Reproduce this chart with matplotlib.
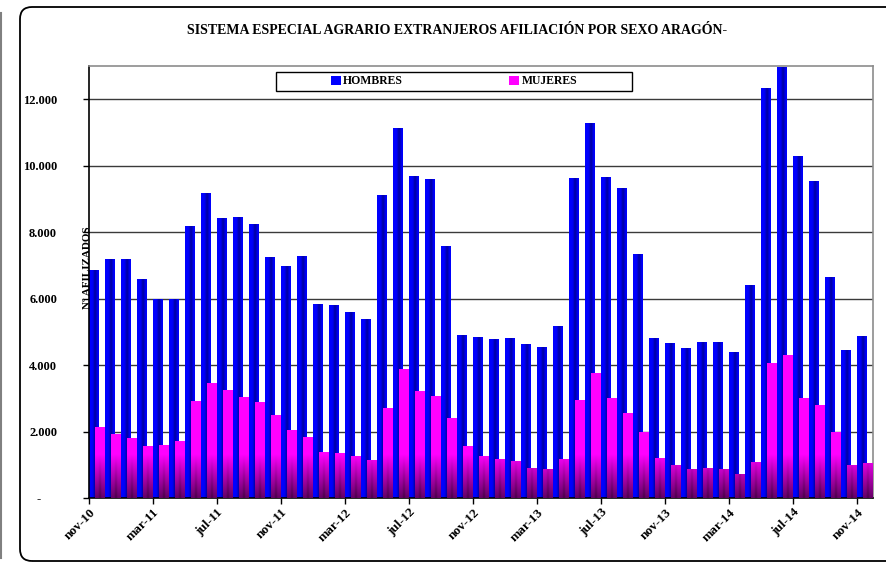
import numpy as np
import matplotlib.pyplot as plt
from matplotlib.patches import FancyBboxPatch, Rectangle
from matplotlib.lines import Line2D
from matplotlib.ticker import FixedLocator, FuncFormatter

# Monthly data nov-10 .. nov-14
months = ["nov-10", "dic-10", "ene-11", "feb-11", "mar-11", "abr-11", "may-11", "jun-11",
          "jul-11", "ago-11", "sep-11", "oct-11", "nov-11", "dic-11", "ene-12", "feb-12",
          "mar-12", "abr-12", "may-12", "jun-12", "jul-12", "ago-12", "sep-12", "oct-12",
          "nov-12", "dic-12", "ene-13", "feb-13", "mar-13", "abr-13", "may-13", "jun-13",
          "jul-13", "ago-13", "sep-13", "oct-13", "nov-13", "dic-13", "ene-14", "feb-14",
          "mar-14", "abr-14", "may-14", "jun-14", "jul-14", "ago-14", "sep-14", "oct-14",
          "nov-14"]

hombres = [6850, 7200, 7200, 6600, 5985, 5980, 8180, 9170, 8420, 8470, 8240, 7250,
           6970, 7280, 5840, 5800, 5606, 5385, 9130, 11120, 9700, 9600, 7580, 4915,
           4855, 4785, 4825, 4645, 4535, 5185, 9640, 11280, 9660, 9330, 7340, 4815,
           4675, 4515, 4705, 4705, 4395, 6416, 12350, 12960, 10290, 9530, 6650, 4455,
           4885]

mujeres = [2140, 1940, 1820, 1572, 1582, 1722, 2913, 3474, 3253, 3053, 2883, 2503,
           2032, 1822, 1381, 1341, 1261, 1141, 2723, 3884, 3213, 3063, 2402, 1562,
           1251, 1181, 1101, 901, 861, 1181, 2963, 3774, 3023, 2543, 1982, 1191,
           981, 881, 891, 871, 731, 1091, 4054, 4294, 3023, 2793, 1982, 991,
           1061]

series_names = ["HOMBRES", "MUJERES"]
yticks = [0, 2000, 4000, 6000, 8000, 10000, 12000]

plt.rcParams['font.family'] = ['Liberation Serif', 'DejaVu Serif']

W, H = 886, 565
fig = plt.figure(figsize=(W / 100, H / 100), dpi=100)
ax = fig.add_axes([89 / W, 1 - 498 / H, (873 - 89) / W, (498 - 66) / H])

x = np.arange(len(months))
bw = 0.625
off = 0.1875

# Bars
bh = ax.bar(x - off, hombres, width=bw, color='#0000FF', linewidth=0, zorder=2,
            label=series_names[0])
bm = ax.bar(x + off, mujeres, width=bw, color='#FF00FF', linewidth=0, zorder=3,
            label=series_names[1])

# Shading of the bars (gradient fill clipped to each bar)
nx, ny = 40, 60
gx = np.linspace(0, 1, nx)
gy = np.linspace(0, 1, ny)

# blue: darker band to the right of centre
band = 1 - 0.35 * np.exp(-((gx - 0.62) / 0.18) ** 2)
blue_img = np.zeros((1, nx, 4))
blue_img[0, :, 2] = band
blue_img[0, :, 3] = 1
for r in bh:
    im = ax.imshow(blue_img, extent=[r.get_x(), r.get_x() + r.get_width(), 0, r.get_height()],
                   origin='lower', aspect='auto', interpolation='bilinear', zorder=2.1)
    im.set_clip_path(r)

# magenta: darker towards the bottom, with a darker centre line
grad_top = 1300
fy = 0.4 + 0.6 * gy[:, None]
cx = 1 - 0.3 * np.exp(-((gx[None, :] - 0.5) / 0.12) ** 2) * (1 - gy[:, None])
shade = fy * cx
mag_img = np.zeros((ny, nx, 4))
mag_img[..., 0] = shade
mag_img[..., 2] = shade
mag_img[..., 3] = 1
for r in bm:
    im = ax.imshow(mag_img, extent=[r.get_x(), r.get_x() + r.get_width(), 0, grad_top],
                   origin='lower', aspect='auto', interpolation='bilinear', zorder=3.1)
    im.set_clip_path(r)

ax.set_xlim(-0.5, len(months) - 0.5)
ax.set_ylim(0, 13000)

# Grid
for v in yticks[1:]:
    ax.axhline(v, color='#3a3a3a', lw=1.0, zorder=1)

# Axis ticks
ax.yaxis.set_major_locator(FixedLocator(yticks))
ax.yaxis.set_major_formatter(FuncFormatter(
    lambda v, p: "-     " if v == 0 else f"{int(v):,}".replace(",", ".")))
tick_pos = np.arange(-0.5, len(months) - 0.5, 4)
ax.set_xticks(tick_pos)
ax.set_xticklabels([months[int(t + 0.5)] for t in tick_pos])
ax.tick_params(axis='y', direction='out', length=4, width=1, pad=19, labelsize=9)
ax.tick_params(axis='x', direction='out', length=4, width=1, pad=2, labelsize=9.5)
for lab in ax.get_yticklabels():
    lab.set_fontweight('bold')
for lab in ax.get_xticklabels():
    lab.set_fontweight('bold')
    lab.set_rotation(45)
    lab.set_ha('right')
    lab.set_va('top')
    lab.set_rotation_mode('anchor')

for s in ['left', 'bottom']:
    ax.spines[s].set_color('black')
    ax.spines[s].set_linewidth(1.2)
for s in ['top', 'right']:
    ax.spines[s].set_color('#8c8c8c')
    ax.spines[s].set_linewidth(1.2)

# Legend
fig.patches.append(Rectangle((276 / W, 1 - 91 / H), (632 - 276) / W, (91 - 72) / H,
                             transform=fig.transFigure, fill=False, ec='black', lw=1))
fig.legend(handles=[bh, bm], loc='center', bbox_to_anchor=(454 / W, 1 - 81.5 / H),
           ncol=2, frameon=False,
           prop={'weight': 'bold', 'size': 8.5},
           handlelength=0.85, handleheight=0.85, handletextpad=0.2, columnspacing=9.0)

# Titles
fig.text(457 / W, 1 - 30 / H, "SISTEMA ESPECIAL AGRARIO EXTRANJEROS AFILIACIÓN POR SEXO ARAGÓN-",
         ha='center', va='center', fontsize=10, fontweight='bold')
fig.text(87 / W, 1 - 268 / H, "Nº AFILIZADOS", rotation=90, ha='center', va='center',
         fontsize=8, fontweight='bold')

# Outer frame
fig.patches.append(FancyBboxPatch((20, 4), 900, 554, boxstyle="round,pad=0,rounding_size=12",
                                  transform=None, fill=False, ec='black', lw=1.3))
fig.lines.append(Line2D([1, 1], [H - 13, H - 558], transform=None, color='#808080', lw=1.5))

fig.savefig("out.png", dpi=100)
